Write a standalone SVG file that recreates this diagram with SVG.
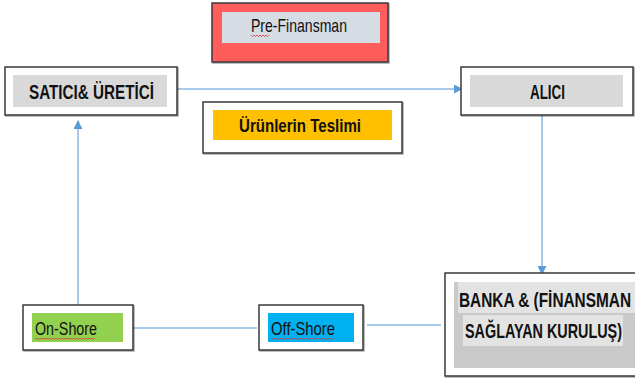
<svg xmlns="http://www.w3.org/2000/svg" width="635" height="378" viewBox="0 0 635 378">
  <defs>
    <marker id="arrow" viewBox="0 0 10 10" refX="9" refY="5" markerWidth="9" markerHeight="9" markerUnits="userSpaceOnUse" orient="auto">
      <path d="M0,0 L10,5 L0,10 z" fill="#5B9BD5"/>
    </marker>
    <filter id="shadow" x="-5%" y="-10%" width="112%" height="125%">
      <feDropShadow dx="1" dy="1" stdDeviation="0.6" flood-color="#000" flood-opacity="0.35"/>
    </filter>
  </defs>
  <style>
    .frame { fill: #ffffff; stroke: #3a3a3a; stroke-width: 1.5; filter: url(#shadow); }
    .label { font-family: "Liberation Sans", Arial, sans-serif; fill: #111111; text-anchor: middle; }
    .bold { font-weight: bold; }
    .link { fill: none; stroke: #8DB8E3; stroke-width: 1.5; }
    .squiggle { fill: none; stroke: #E03030; stroke-width: 0.8; }
  </style>
  <rect width="635" height="378" fill="#ffffff"/>

  <!-- connectors -->
  <g id="connectors">
    <line class="link" x1="177" y1="89" x2="462" y2="89" marker-end="url(#arrow)"/>
    <line class="link" x1="542" y1="115" x2="542" y2="274" marker-end="url(#arrow)"/>
    <line class="link" x1="78" y1="305" x2="78" y2="121" marker-end="url(#arrow)"/>
    <line class="link" x1="133" y1="328" x2="257" y2="328"/>
    <line class="link" x1="367" y1="325" x2="441" y2="325"/>
  </g>

  <!-- Pre-Finansman -->
  <g id="pre-finansman">
    <rect x="212" y="3" width="176" height="59" fill="#FF5B5B" stroke="#3a3a3a" stroke-width="1.5" filter="url(#shadow)"/>
    <rect x="222" y="12" width="158" height="31" fill="#D6DCE4"/>
    <text class="label" x="299" y="32" font-size="19" textLength="96" lengthAdjust="spacingAndGlyphs">Pre-Finansman</text>
    <path class="squiggle" d="M251,35 l1.5,1.5 l1.5,-1.5 l1.5,1.5 l1.5,-1.5 l1.5,1.5 l1.5,-1.5 l1.5,1.5 l1.5,-1.5 l1.5,1.5 l1.5,-1.5 l1.5,1.5 l1.5,-1.5"/>
  </g>

  <!-- Satıcı & Üretici -->
  <g id="satici">
    <rect class="frame" x="5" y="67" width="172" height="48"/>
    <rect x="13" y="75" width="154" height="32" fill="#D9D9D9"/>
    <text class="label bold" x="91.5" y="99" font-size="20" textLength="125" lengthAdjust="spacingAndGlyphs">SATICI&amp; ÜRETİCİ</text>
  </g>

  <!-- Alıcı -->
  <g id="alici">
    <rect class="frame" x="461" y="67" width="172" height="48"/>
    <rect x="470" y="75" width="153" height="32" fill="#D9D9D9"/>
    <text class="label bold" x="547.5" y="99" font-size="20" textLength="35" lengthAdjust="spacingAndGlyphs">ALICI</text>
  </g>

  <!-- Ürünlerin Teslimi -->
  <g id="urunlerin-teslimi">
    <rect class="frame" x="203" y="102" width="199" height="51"/>
    <rect x="213" y="110" width="179" height="30" fill="#FFC000"/>
    <text class="label bold" x="300" y="132" font-size="19" textLength="122" lengthAdjust="spacingAndGlyphs">Ürünlerin Teslimi</text>
  </g>

  <!-- On-Shore -->
  <g id="on-shore">
    <rect class="frame" x="23" y="305" width="110" height="45"/>
    <rect x="32" y="313" width="91" height="29" fill="#92D050"/>
    <text class="label" x="66" y="335" font-size="19" textLength="62" lengthAdjust="spacingAndGlyphs">On-Shore</text>
    <path class="squiggle" d="M35,338 l1.5,1.5 l1.5,-1.5 l1.5,1.5 l1.5,-1.5 l1.5,1.5 l1.5,-1.5 l1.5,1.5 l1.5,-1.5 l1.5,1.5 l1.5,-1.5 l1.5,1.5 l1.5,-1.5 l1.5,1.5 l1.5,-1.5 l1.5,1.5 l1.5,-1.5 l1.5,1.5 l1.5,-1.5 l1.5,1.5 l1.5,-1.5 l1.5,1.5 l1.5,-1.5 l1.5,1.5 l1.5,-1.5 l1.5,1.5 l1.5,-1.5 l1.5,1.5 l1.5,-1.5 l1.5,1.5 l1.5,-1.5 l1.5,1.5 l1.5,-1.5 l1.5,1.5 l1.5,-1.5 l1.5,1.5 l1.5,-1.5 l1.5,1.5 l1.5,-1.5 l1.5,1.5 l1.5,-1.5"/>
  </g>

  <!-- Off-Shore -->
  <g id="off-shore">
    <rect class="frame" x="259" y="305" width="104" height="45"/>
    <rect x="268" y="313" width="86" height="29" fill="#00B0F0"/>
    <text class="label" x="303" y="335" font-size="19" textLength="64" lengthAdjust="spacingAndGlyphs">Off-Shore</text>
    <path class="squiggle" d="M271,338 l1.5,1.5 l1.5,-1.5 l1.5,1.5 l1.5,-1.5 l1.5,1.5 l1.5,-1.5 l1.5,1.5 l1.5,-1.5 l1.5,1.5 l1.5,-1.5 l1.5,1.5 l1.5,-1.5 l1.5,1.5 l1.5,-1.5 l1.5,1.5 l1.5,-1.5 l1.5,1.5 l1.5,-1.5 l1.5,1.5 l1.5,-1.5 l1.5,1.5 l1.5,-1.5 l1.5,1.5 l1.5,-1.5 l1.5,1.5 l1.5,-1.5 l1.5,1.5 l1.5,-1.5 l1.5,1.5 l1.5,-1.5 l1.5,1.5 l1.5,-1.5 l1.5,1.5 l1.5,-1.5 l1.5,1.5 l1.5,-1.5 l1.5,1.5 l1.5,-1.5 l1.5,1.5 l1.5,-1.5 l1.5,1.5 l1.5,-1.5"/>
  </g>

  <!-- Banka & Finansman Sağlayan Kuruluş -->
  <g id="banka">
    <rect class="frame" x="445" y="273" width="200" height="103"/>
    <rect x="454" y="282" width="190" height="86" fill="#C9C9C9"/>
    <rect x="458" y="282" width="186" height="31" fill="#E3E3E3"/>
    <rect x="463" y="315" width="160" height="31" fill="#E3E3E3"/>
    <text class="label bold" x="545" y="307" font-size="21" textLength="172" lengthAdjust="spacingAndGlyphs">BANKA &amp; (FİNANSMAN</text>
    <text class="label bold" x="543.5" y="338" font-size="21" textLength="157" lengthAdjust="spacingAndGlyphs">SAĞLAYAN KURULUŞ)</text>
  </g>
</svg>
